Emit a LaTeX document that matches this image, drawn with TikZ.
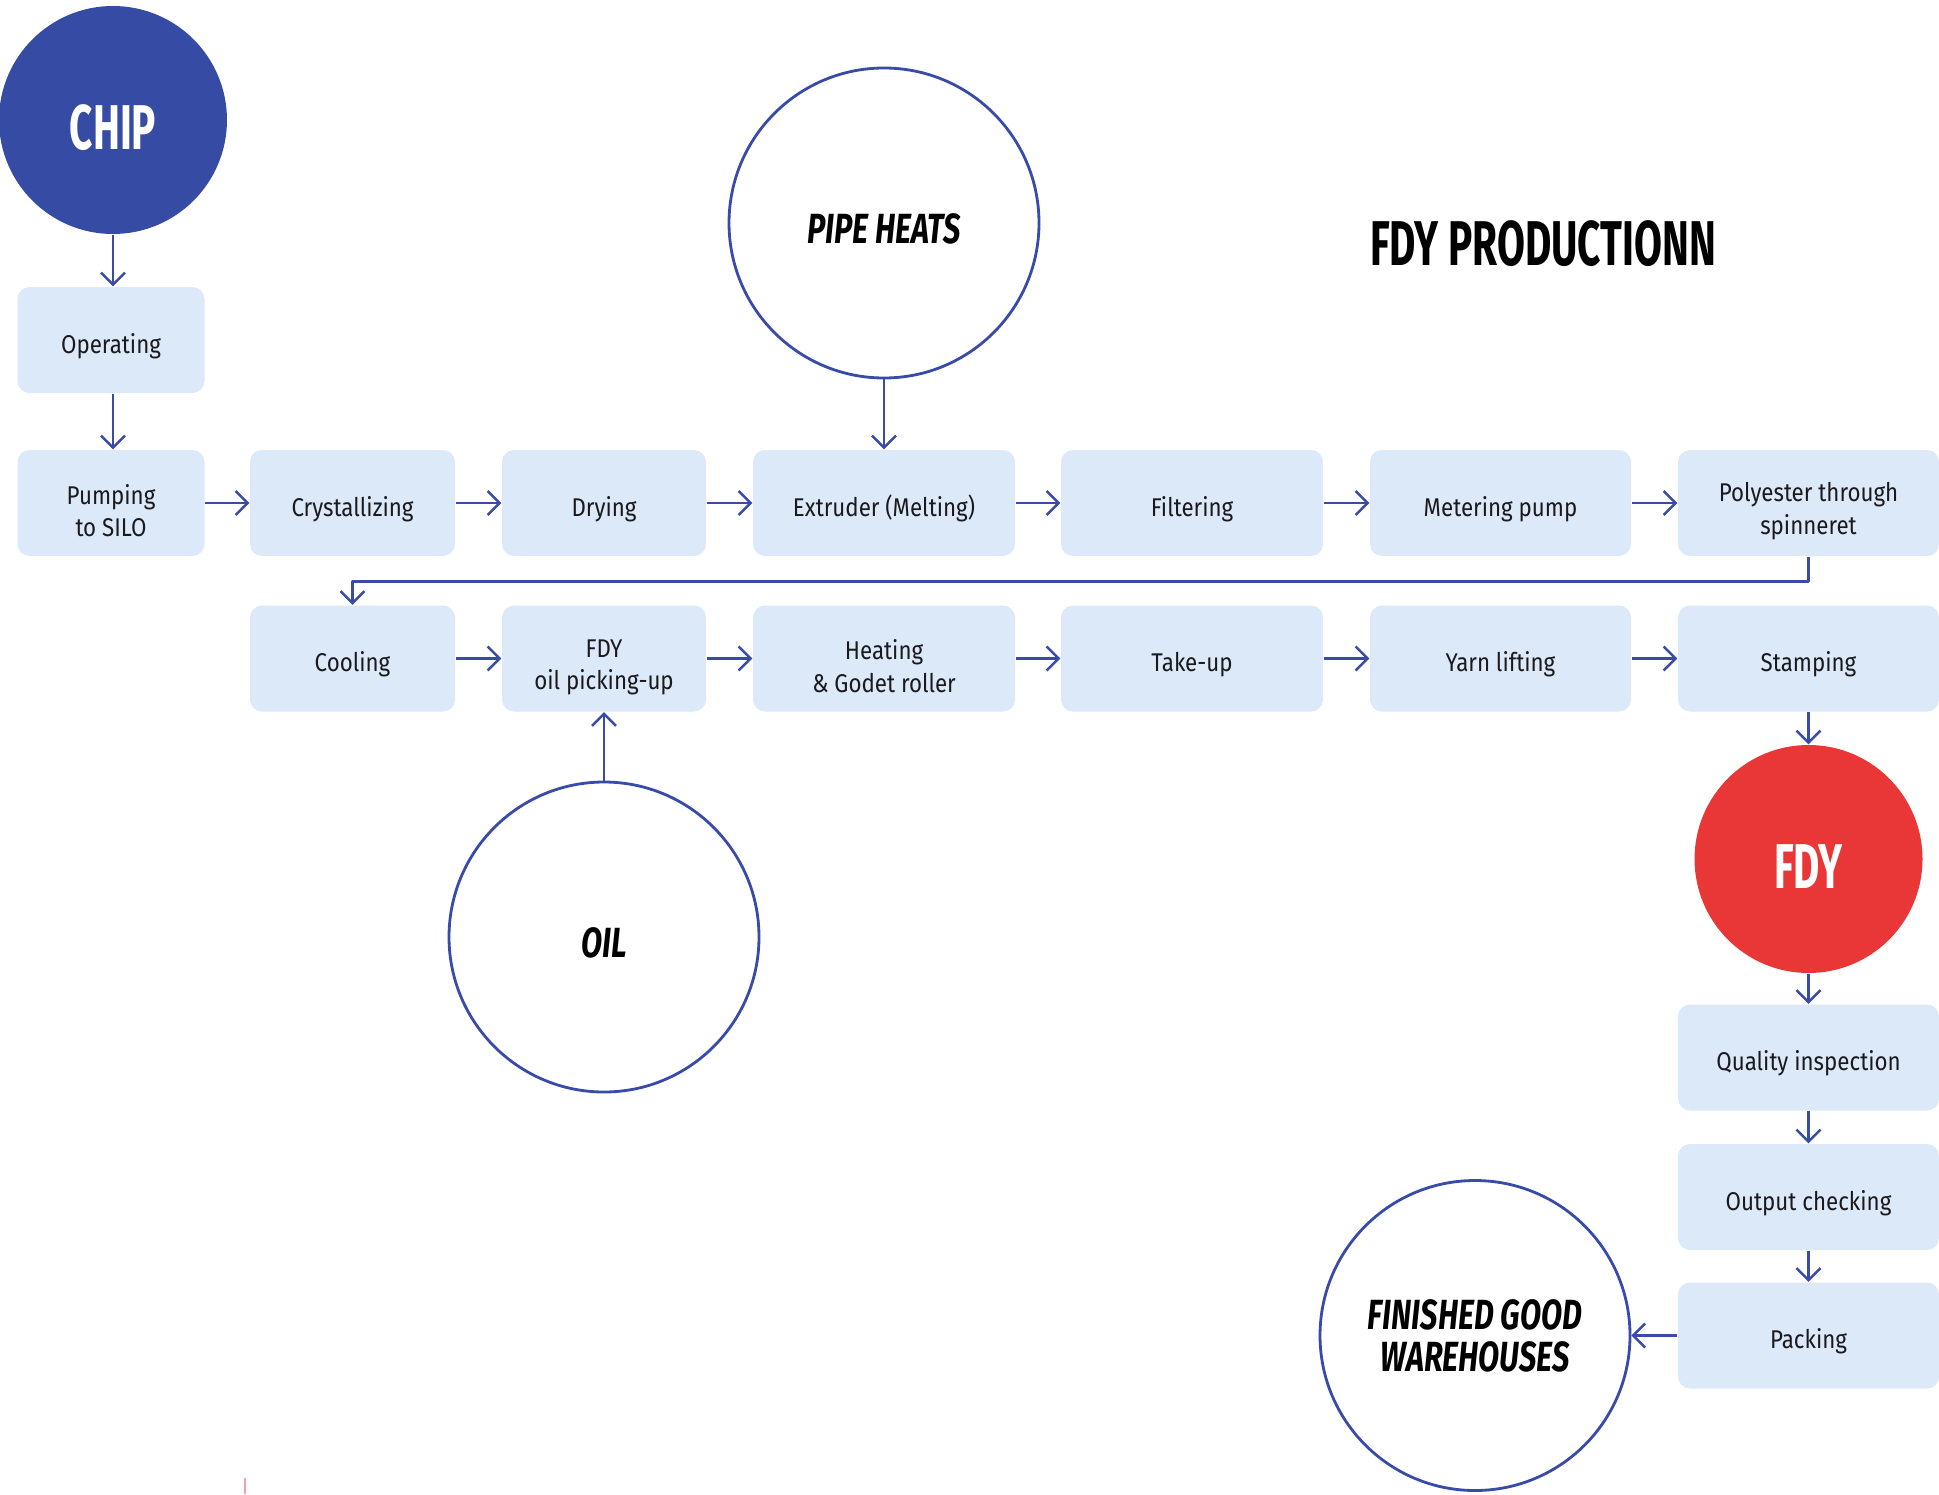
\documentclass[tikz,border=0pt]{standalone}
\usepackage{fontspec}
\setmainfont{Fira Sans}[FakeStretch=0.87]
\newfontfamily\headfont{Fira Sans}[FakeStretch=0.64]
\newfontfamily\ringfont{Fira Sans}[FakeStretch=0.73]
\usetikzlibrary{arrows.meta}
\definecolor{boxblue}{RGB}{220,233,248}
\definecolor{lineblue}{RGB}{57,75,168}
\definecolor{chipblue}{RGB}{54,75,163}
\definecolor{fdyred}{RGB}{233,54,54}
\definecolor{txtdark}{RGB}{25,25,30}
\definecolor{markpink}{RGB}{244,160,170}
\newcommand\twoline[2]{\rule{0pt}{10pt}#1\\#2}
\tikzset{
box/.style={fill=boxblue,rounded corners=1.2mm,minimum height=10.6mm,align=center,text=txtdark,inner sep=0pt,font=\fontsize{7.3}{9.2}\selectfont,execute at begin node=\rule{0pt}{9pt}},
ring/.style={circle,draw=lineblue,line width=.8pt,minimum size=31mm,align=center,inner sep=0pt,font=\ringfont\bfseries\itshape\fontsize{12}{12}\selectfont,execute at begin node=\rule{0pt}{11.7pt}},
blob/.style={circle,minimum size=22.8mm,inner sep=0pt,text=white,text height=16.8pt,text depth=0pt,font=\headfont\bfseries\fontsize{18}{18}\selectfont},
conn/.style={draw=lineblue,line width=.7pt,->}}
\begin{document}
\begin{tikzpicture}[x=.1mm,y=-.1mm,line join=round,>={Straight Barb[length=1.2mm,width=2.4mm]}]
\useasboundingbox (0,0) rectangle (1939,1494);
\def\ya{503} \def\yb{658.5} \def\xr{1808.5}
\node[blob,fill=chipblue] (chip) at (113,120) {CHIP};
\node[box,minimum width=18.7mm] (ope) at (111,340) {Operating};
\node[box,minimum width=18.7mm] (pump) at (111,\ya) {\twoline{Pumping}{to SILO}};
\foreach \n/\x/\w/\t in {cry/352.5/20.5/Crystallizing,dry/604/20.4/Drying,ext/884/26.2/Extruder (Melting),fil/1192/26.2/Filtering,met/1500.5/26.1/Metering pump,poly/\xr/26.1/{\twoline{Polyester through}{spinneret}}}
\node[box,minimum width=\w mm] (\n) at (\x,\ya) {\t};
\foreach \n/\x/\w/\t in {cool/352.5/20.5/Cooling,oilp/604/20.4/{\twoline{FDY}{oil picking-up}},heat/884/26.2/{\twoline{Heating}{\& Godet roller}},take/1192/26.2/Take-up,yarn/1500.5/26.1/Yarn lifting,stamp/\xr/26.1/Stamping}
\node[box,minimum width=\w mm] (\n) at (\x,\yb) {\t};
\foreach \n/\y/\t in {qual/1057.5/Quality inspection,out/1197/Output checking,pack/1335.5/Packing}
\node[box,minimum width=26.1mm] (\n) at (\xr,\y) {\t};
\node[ring] (pipe) at (884,223) {PIPE HEATS};
\node[ring] (oil) at (604,937) {OIL};
\node[ring] (wh) at (1475,1335.5) {FINISHED GOOD\\WAREHOUSES};
\node[blob,fill=fdyred] (fdy) at (\xr,859) {FDY};
\node[font=\headfont\bfseries\fontsize{18}{18}\selectfont] (title) at (1543,244) {FDY PRODUCTIONN};
\foreach \a/\b in {pump/cry,cry/dry,dry/ext,ext/fil,fil/met,met/poly,pipe/ext,cool/oilp,oilp/heat,heat/take,take/yarn,yarn/stamp,oil/oilp,stamp/fdy,fdy/qual,qual/out,out/pack,pack/wh}
\draw[conn] (\a)--(\b);
\draw[conn] (chip.south) -- (chip.south |- ope.north);
\draw[conn] (ope.south -| chip.south) -- (chip.south |- pump.north);
\draw[conn] (poly.south) -- ++(0,25) -| (cool.north);
\draw[markpink,line width=.3pt] (245,1478)--(245,1494);
\end{tikzpicture}
\end{document}
